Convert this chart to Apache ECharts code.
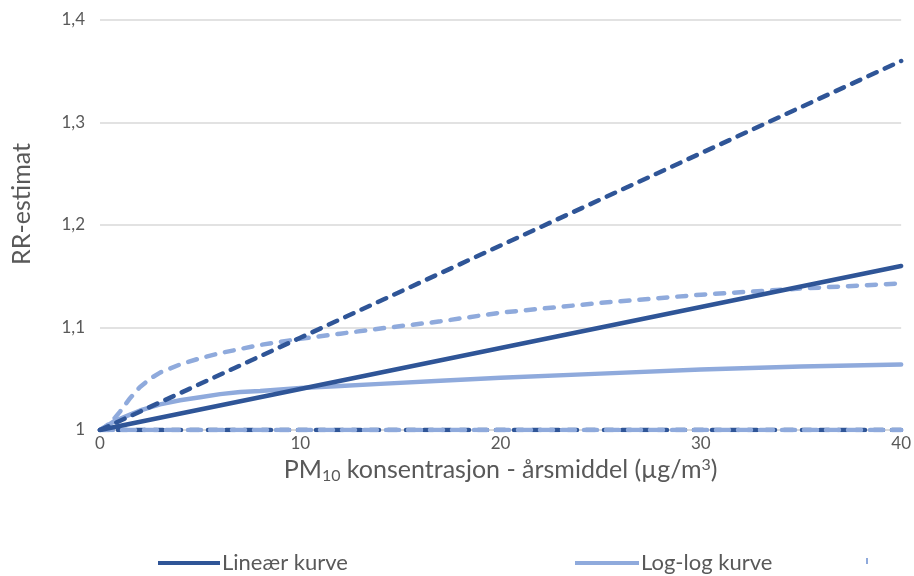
<!DOCTYPE html>
<html>
<head>
<meta charset="utf-8">
<script src="https://cdn.jsdelivr.net/npm/echarts@6/dist/echarts.min.js"></script>
<style>
  html, body { margin: 0; padding: 0; background: #ffffff; }
  #chart { width: 914px; height: 576px; }
</style>
</head>
<body>
<div id="chart"></div>
<script>
// Linear exposure-response (PM10 µg/m3 -> RR): central estimate and confidence bounds
const linearX       = [0, 10, 20, 30, 40];
const linearCentral = [1, 1.04, 1.08, 1.12, 1.16];
const linearUpper   = [1, 1.09, 1.18, 1.27, 1.36];
const linearLower   = [1, 1, 1, 1, 1];

// Log-log exposure-response: central estimate and confidence bounds
const logX       = [0, 0.25, 0.5, 0.75, 1, 1.5, 2, 2.5, 3, 4, 5, 6, 7, 8, 10, 12, 14, 17, 20, 25, 30, 35, 40];
const logCentral = [1, 1.003, 1.006, 1.009, 1.011, 1.015, 1.019, 1.022, 1.025, 1.029, 1.032, 1.035, 1.037, 1.038, 1.041, 1.043, 1.045, 1.048, 1.051, 1.055, 1.059, 1.062, 1.064];
const logUpper   = [1, 1.003, 1.007, 1.012, 1.018, 1.031, 1.042, 1.050, 1.056, 1.064, 1.070, 1.075, 1.079, 1.083, 1.089, 1.094, 1.099, 1.106, 1.1145, 1.124, 1.132, 1.138, 1.143];
const logLower   = [1, 1, 1, 1, 1, 1, 1, 1, 1, 1, 1, 1, 1, 1, 1, 1, 1, 1, 1, 1, 1, 1, 1];

// Axis ticks
const yTicks = { min: 1, max: 1.4, step: 0.1 };
const xTicks = { min: 0, max: 40, step: 10 };

const legendNames = ['Lineær kurve', 'Log-log kurve'];

const DARK = '#2F5597';
const LIGHT = '#8FAADC';
const TEXT = '#595959';
const FONT = 'Lato, "Open Sans", sans-serif';

function pairs(xs, ys) { return xs.map((x, i) => [x, ys[i]]); }

function curve(name, xs, ys, color, dash) {
  return {
    name: name,
    type: 'line',
    data: pairs(xs, ys),
    showSymbol: false,
    symbol: 'none',
    smooth: false,
    lineStyle: {
      color: color,
      width: 4.5,
      type: dash || 'solid',
      cap: 'round',
      join: 'round'
    },
    itemStyle: { color: color },
    emphasis: { disabled: true },
    silent: true
  };
}

const chart = echarts.init(document.getElementById('chart'), null, { renderer: 'canvas' });

chart.setOption({
  animation: false,
  backgroundColor: '#ffffff',
  textStyle: { fontFamily: FONT },
  grid: { left: 100, right: 12, top: 20, bottom: 146, containLabel: false },
  xAxis: {
    type: 'value',
    min: xTicks.min,
    max: xTicks.max,
    interval: xTicks.step,
    axisLine: { show: true, lineStyle: { color: '#d9d9d9', width: 1.5 } },
    axisTick: { show: false },
    splitLine: { show: false },
    axisLabel: { color: TEXT, fontSize: 17, margin: 5, fontFamily: FONT },
    name: '{a|PM}{sub|10}{a| konsentrasjon - årsmiddel (µg/m}{sup|3}{a|)}',
    nameLocation: 'middle',
    nameGap: 18,
    nameTextStyle: {
      rich: {
        a: { fontSize: 25, color: TEXT, fontFamily: FONT, lineHeight: 28 },
        sub: { fontSize: 16, color: TEXT, fontFamily: FONT, padding: [11, 0, 0, 0], lineHeight: 28 },
        sup: { fontSize: 16, color: TEXT, fontFamily: FONT, padding: [0, 0, 11, 0], lineHeight: 28 }
      }
    }
  },
  yAxis: {
    type: 'value',
    min: yTicks.min,
    max: yTicks.max,
    interval: yTicks.step,
    axisLine: { show: false },
    axisTick: { show: false },
    splitLine: { show: true, lineStyle: { color: '#d9d9d9', width: 1.5 } },
    axisLabel: {
      color: TEXT, fontSize: 17, margin: 15, fontFamily: FONT,
      formatter: v => (Math.abs(v - 1) < 1e-9 ? '1' : v.toFixed(1).replace('.', ','))
    }
  },
  legend: [
    {
      data: [legendNames[0]], left: 153, top: 547,
      icon: 'rect', itemWidth: 62, itemHeight: 4, itemGap: 0,
      textStyle: { color: TEXT, fontSize: 22, fontFamily: FONT, padding: [0, 0, 0, -3] },
      selectedMode: false
    },
    {
      data: [legendNames[1]], left: 570, top: 547,
      icon: 'rect', itemWidth: 64, itemHeight: 4, itemGap: 0,
      textStyle: { color: TEXT, fontSize: 22, fontFamily: FONT, padding: [0, 0, 0, -3] },
      selectedMode: false
    }
  ],
  graphic: [
    {
      type: 'text', silent: true,
      x: 22, y: 204, rotation: Math.PI / 2,
      style: { text: 'RR-estimat', fill: TEXT, font: '25px ' + FONT, textAlign: 'center', textVerticalAlign: 'middle' }
    },
    { type: 'rect', left: 866, top: 558, shape: { width: 2, height: 6 }, style: { fill: LIGHT }, silent: true }
  ],
  series: [
    curve('Lineær nedre', linearX, linearLower, DARK, [9, 9]),
    curve('Log-log nedre', logX, logLower, LIGHT, [13, 9]),
    curve('Log-log øvre', logX, logUpper, LIGHT, [9, 10]),
    curve(legendNames[1], logX, logCentral, LIGHT, null),
    curve('Lineær øvre', linearX, linearUpper, DARK, [9, 9]),
    curve(legendNames[0], linearX, linearCentral, DARK, null)
  ]
});
</script>
</body>
</html>
